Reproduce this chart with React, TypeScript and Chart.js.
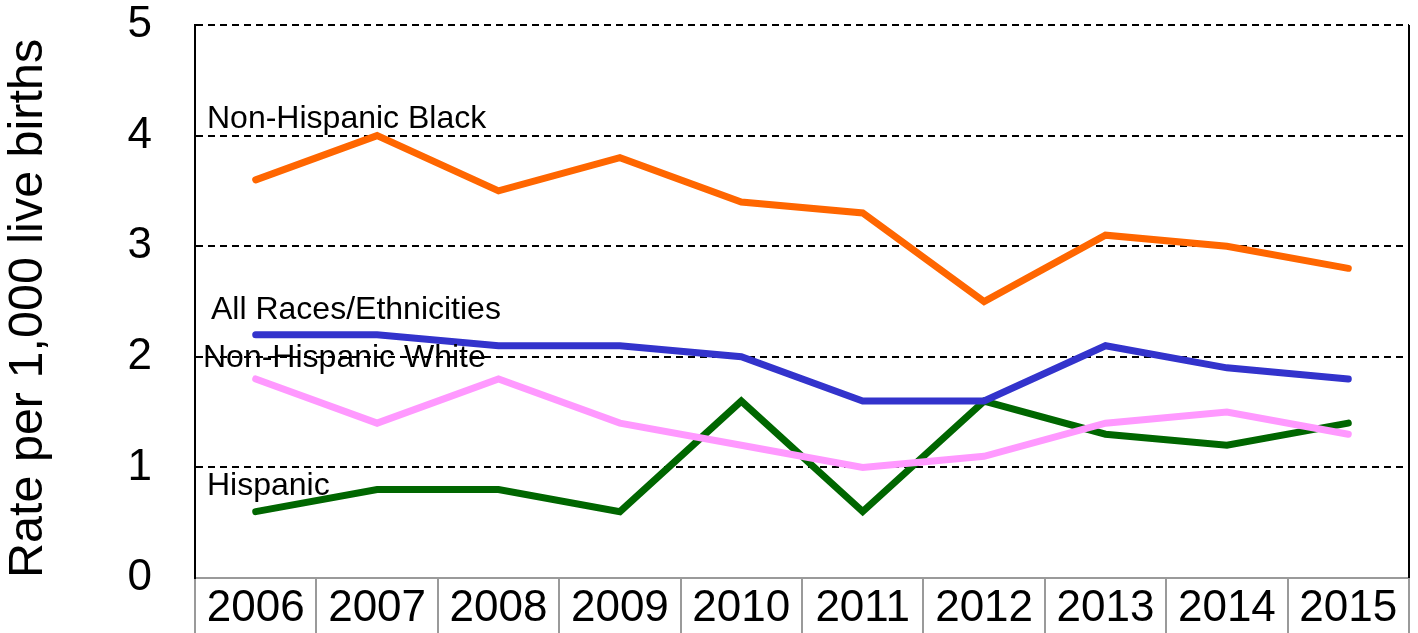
import React, { useEffect, useRef } from "react";
import { Chart, registerables } from "chart.js";

Chart.register(...registerables);

const years = ["2006", "2007", "2008", "2009", "2010", "2011", "2012", "2013", "2014", "2015"];
const nonHispanicBlack = [3.6, 4.0, 3.5, 3.8, 3.4, 3.3, 2.5, 3.1, 3.0, 2.8];
const allRaces = [2.2, 2.2, 2.1, 2.1, 2.0, 1.6, 1.6, 2.1, 1.9, 1.8];
const nonHispanicWhite = [1.8, 1.4, 1.8, 1.4, 1.2, 1.0, 1.1, 1.4, 1.5, 1.3];
const hispanic = [0.6, 0.8, 0.8, 0.6, 1.6, 0.6, 1.6, 1.3, 1.2, 1.4];
const yTicks = [0, 1, 2, 3, 4, 5];

const seriesLabels = ["Non-Hispanic Black", "All Races/Ethnicities", "Non-Hispanic White", "Hispanic"];
const labelValues = [4.07, 2.34, 1.91, 0.75];
const labelOffsets = [12, 16, 8, 12];

const FONT = "'Liberation Sans', Arial, sans-serif";

const annotationPlugin = {
  id: "annotations",
  afterDraw(chart: any) {
    const { ctx, chartArea, scales } = chart;
    ctx.save();
    // right border
    ctx.strokeStyle = "#000";
    ctx.lineWidth = 2;
    ctx.beginPath();
    ctx.moveTo(chartArea.right, chartArea.top);
    ctx.lineTo(chartArea.right, chartArea.bottom);
    ctx.stroke();
    // series labels
    ctx.fillStyle = "#000";
    ctx.font = `32px ${FONT}`;
    ctx.textAlign = "left";
    ctx.textBaseline = "alphabetic";
    seriesLabels.forEach((t, i) => {
      const y = scales.y.getPixelForValue(labelValues[i]);
      ctx.fillText(t, chartArea.left + labelOffsets[i], y);
    });
    ctx.restore();
  },
};

export default function App() {
  const ref = useRef<HTMLCanvasElement>(null);
  useEffect(() => {
    if (!ref.current) return;
    const mk = (label: string, data: number[], color: string) => ({
      label,
      data,
      borderColor: color,
      backgroundColor: color,
      borderWidth: 7,
      pointRadius: 0,
      tension: 0,
      borderJoinStyle: "miter" as const,
      borderCapStyle: "round" as const,
      fill: false,
    });
    const chart = new Chart(ref.current, {
      type: "line",
      data: {
        labels: years,
        datasets: [
          mk(seriesLabels[0], nonHispanicBlack, "#FF6600"),
          mk(seriesLabels[1], allRaces, "#3333CC"),
          mk(seriesLabels[2], nonHispanicWhite, "#FF99FF"),
          mk(seriesLabels[3], hispanic, "#006600"),
        ],
      },
      options: {
        animation: false,
        responsive: false,
        devicePixelRatio: 1,
        layout: { padding: { top: 25, right: 9, left: 0, bottom: 0 } },
        plugins: { legend: { display: false }, tooltip: { enabled: false } },
        scales: {
          x: {
            offset: true,
            grid: {
              offset: true,
              drawOnChartArea: false,
              drawTicks: true,
              tickLength: 55,
              lineWidth: 2,
              color: (c: any) => (c.index === years.length ? "rgba(0,0,0,0)" : "#9a9a9a"),
            },
            border: { display: true, color: "#9a9a9a", width: 2 },
            ticks: {
              color: "#000",
              padding: -46,
              maxRotation: 0,
              autoSkip: false,
              font: { family: FONT, size: 44, lineHeight: 1 },
            },
            afterFit: (s: any) => {
              s.height = 55;
            },
          },
          y: {
            min: 0,
            max: 5,
            afterBuildTicks: (s: any) => {
              s.ticks = yTicks.map((v) => ({ value: v }));
            },
            grid: {
              drawTicks: true,
              tickLength: 43,
              tickColor: "rgba(0,0,0,0)",
              lineWidth: 2,
              color: (c: any) => (c.tick && c.tick.value === 0 ? "rgba(0,0,0,0)" : "#000"),
            },
            border: { display: true, color: "#000", width: 2, dash: [7, 5] },
            ticks: {
              color: "#000",
              padding: 0,
              font: { family: FONT, size: 44, lineHeight: 1 },
            },
            title: {
              display: true,
              text: "Rate per 1,000 live births",
              color: "#000",
              padding: 0,
              align: "start",
              font: { family: FONT, size: 48.5 },
            },
            afterFit: (s: any) => {
              s.width = 195;
            },
          },
        },
      },
      plugins: [annotationPlugin],
    });
    return () => chart.destroy();
  }, []);
  return (
    <div style={{ position: "fixed", left: 0, top: 0, width: 1418, height: 633, background: "#fff" }}>
      <canvas ref={ref} width={1418} height={633} style={{ display: "block" }} />
    </div>
  );
}
